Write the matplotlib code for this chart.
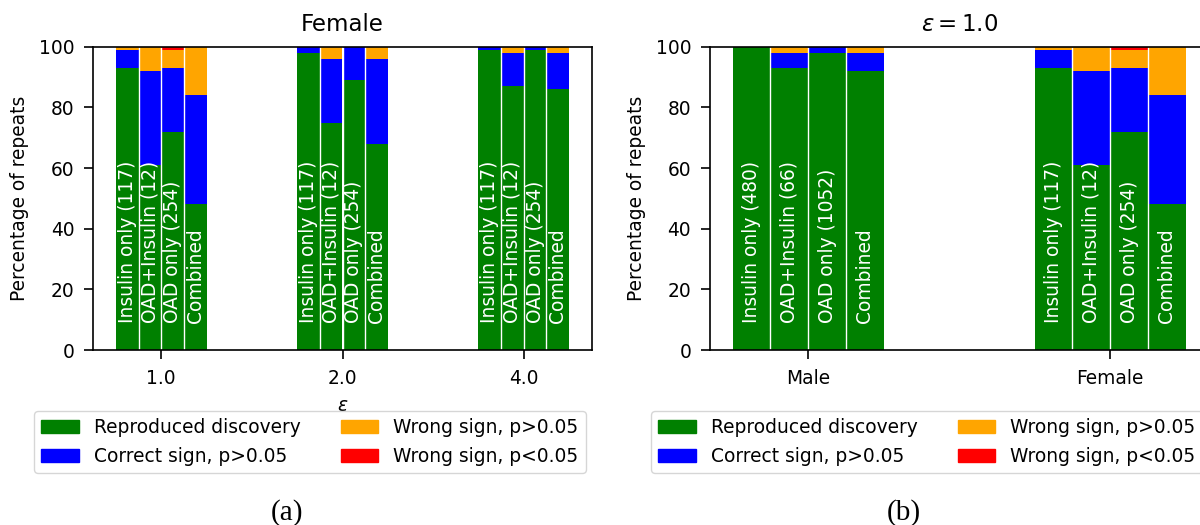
import matplotlib
matplotlib.use("Agg")
import matplotlib.pyplot as plt
import numpy as np
from matplotlib.patches import Patch

# ---- data ----
eps_labels = ["1.0", "2.0", "4.0"]
bar_names_female = ["Insulin only (117)", "OAD+Insulin (12)", "OAD only (254)", "Combined"]
bar_names_male = ["Insulin only (480)", "OAD+Insulin (66)", "OAD only (1052)", "Combined"]
sex_labels = ["Male", "Female"]

# left panel: Female, per epsilon, per group [Insulin, OAD+Insulin, OAD, Combined]
left_green = [[93, 61, 72, 48], [98, 75, 89, 68], [99, 87, 99, 86]]
left_blue = [[6, 31, 21, 36], [2, 21, 11, 28], [1, 11, 1, 12]]
left_orange = [[1, 8, 6, 16], [0, 4, 0, 4], [0, 2, 0, 2]]
left_red = [[0, 0, 1, 0], [0, 0, 0, 0], [0, 0, 0, 0]]

# right panel: epsilon = 1.0, Male / Female
right_green = [[100, 93, 98, 92], [93, 61, 72, 48]]
right_blue = [[0, 5, 2, 6], [6, 31, 21, 36]]
right_orange = [[0, 2, 0, 2], [1, 8, 6, 16]]
right_red = [[0, 0, 0, 0], [0, 0, 1, 0]]

legend_labels = ["Reproduced discovery", "Correct sign, p>0.05",
                 "Wrong sign, p>0.05", "Wrong sign, p<0.05"]
colors = ["#008000", "#0000ff", "#ffa500", "#ff0000"]

FS = 13.4
plt.rcParams['font.family'] = ['DejaVu Sans']

fig = plt.figure(figsize=(12, 5.25), dpi=100)
W, H = 1200.0, 525.0
axL = fig.add_axes([93.3 / W, 1 - 350 / H, 498.4 / W, 303.3 / H])
axR = fig.add_axes([710 / W, 1 - 350 / H, 498.4 / W, 303.3 / H])

bw = 0.125
offsets = np.array([-1.5, -0.5, 0.5, 1.5]) * bw


def draw(ax, green, blue, orange, red, names_per_group, ticklabels):
    n = len(green)
    x = np.arange(n)
    for gi in range(n):
        g = np.array(green[gi], float)
        b = np.array(blue[gi], float)
        o = np.array(orange[gi], float)
        r = np.array(red[gi], float)
        xs = x[gi] + offsets
        ax.bar(xs, g, width=bw, color=colors[0], linewidth=0)
        ax.bar(xs, b, width=bw, bottom=g, color=colors[1], linewidth=0)
        ax.bar(xs, o, width=bw, bottom=g + b, color=colors[2], linewidth=0)
        ax.bar(xs, r, width=bw, bottom=g + b + o, color=colors[3], linewidth=0)
        names = names_per_group[gi]
        for k in range(4):
            ax.text(xs[k], 9, names[k], rotation=90, ha='center', va='bottom',
                    color='white', fontsize=FS)
        # white separators between adjacent bars
        for k in range(3):
            ax.plot([xs[k] + bw / 2] * 2, [0, 100], color='white', lw=1.0,
                    solid_capstyle='butt')
    ax.set_xticks(x)
    ax.set_xticklabels(ticklabels)
    ax.set_ylim(0, 100)
    ax.set_xlim(-0.25 - 0.05 * (n - 0.5), n - 1 + 0.25 + 0.05 * (n - 0.5))
    ax.set_yticks([0, 20, 40, 60, 80, 100])
    ax.tick_params(labelsize=FS, length=6.5, width=1.2, pad=7)
    for s in ax.spines.values():
        s.set_linewidth(1.2)
    ax.set_ylabel("Percentage of repeats", fontsize=FS, labelpad=7)


draw(axL, left_green, left_blue, left_orange, left_red,
     [bar_names_female] * 3, eps_labels)
axL.set_title("Female", fontsize=16.5, pad=11.5)
axL.set_xlabel(r"$\epsilon$", fontsize=FS, labelpad=6)

draw(axR, right_green, right_blue, right_orange, right_red,
     [bar_names_male, bar_names_female], sex_labels)
axR.set_title(r"$\epsilon = 1.0$", fontsize=16.5, pad=11.5)

handles = [Patch(color=c) for c in colors]
for ax, lx in [(axL, 34 / W), (axR, 651 / W)]:
    ax.legend(handles, legend_labels, ncol=2, fontsize=FS,
              loc='upper left', bbox_to_anchor=(lx, 1 - 411 / H),
              bbox_transform=fig.transFigure, borderaxespad=0,
              columnspacing=2.2)

fig.text(286.7 / W, 1 - 513 / H, "(a)", ha='center', va='center',
         fontsize=21, family=['Liberation Serif', 'DejaVu Serif'])
fig.text(903.5 / W, 1 - 513 / H, "(b)", ha='center', va='center',
         fontsize=21, family=['Liberation Serif', 'DejaVu Serif'])

fig.savefig("out.png", dpi=100)
